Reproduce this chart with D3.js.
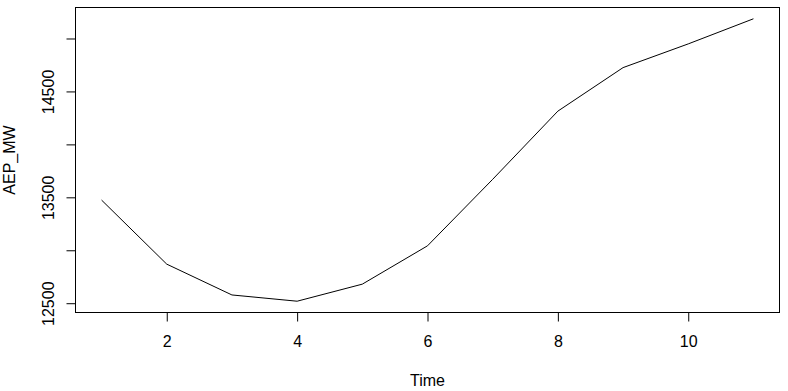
<!DOCTYPE html>
<html>
<head>
<meta charset="utf-8">
<script src="https://cdn.jsdelivr.net/npm/d3@7"></script>
<style>
  body { margin: 0; background: #fff; }
  svg { display: block; }
  text { font-family: Arial, "Liberation Sans", sans-serif; fill: #000; }
</style>
</head>
<body>
<svg id="chart"></svg>
<script>
// AEP_MW series, one value per time step
const timeSteps = [1, 2, 3, 4, 5, 6, 7, 8, 9, 10, 11];
const aepValues = [13474, 12869, 12578, 12519, 12680, 13042, 13670, 14314, 14725, 14949, 15186];

const xTicks = [2, 4, 6, 8, 10];
const yTicks = [12500, 13000, 13500, 14000, 14500, 15000];
const yLabelled = [12500, 13500, 14500]; // R drops the labels that would overlap

const width = 788, height = 391;
const margin = { top: 7.5, right: 8.5, bottom: 78.5, left: 75.5 };

const svg = d3.select('#chart')
    .attr('width', width)
    .attr('height', height);

// R pads the data range by 4% on each side
function pad(ext) {
    const d = (ext[1] - ext[0]) * 0.04;
    return [ext[0] - d, ext[1] + d];
}

const x = d3.scaleLinear()
    .domain(pad(d3.extent(timeSteps)))
    .range([margin.left, width - margin.right]);

const y = d3.scaleLinear()
    .domain(pad(d3.extent(aepValues)))
    .range([height - margin.bottom, margin.top]);

// x axis
const xAxis = svg.append('g')
    .attr('transform', `translate(0,${height - margin.bottom})`)
    .call(d3.axisBottom(x).tickValues(xTicks).tickSize(9).tickFormat(d3.format('d')));
xAxis.select('.domain').remove();
xAxis.selectAll('line').attr('stroke', '#000');
xAxis.selectAll('text')
    .attr('y', 34)
    .attr('dy', 0)
    .style('font-size', '16px')
    .style('font-family', 'Arial, "Liberation Sans", sans-serif');

// y axis, labels rotated like R's default las = 0
const yAxis = svg.append('g')
    .attr('transform', `translate(${margin.left},0)`)
    .call(d3.axisLeft(y).tickValues(yTicks).tickSize(9)
        .tickFormat(d => yLabelled.includes(d) ? d : ''));
yAxis.select('.domain').remove();
yAxis.selectAll('line').attr('stroke', '#000');
yAxis.selectAll('text')
    .attr('transform', 'rotate(-90)')
    .attr('x', 0)
    .attr('y', -22)
    .attr('dy', 0)
    .style('text-anchor', 'middle')
    .style('font-size', '16px')
    .style('font-family', 'Arial, "Liberation Sans", sans-serif');

// plot box
svg.append('rect')
    .attr('x', margin.left)
    .attr('y', margin.top)
    .attr('width', width - margin.left - margin.right)
    .attr('height', height - margin.top - margin.bottom)
    .attr('fill', 'none')
    .attr('stroke', '#000')
    .attr('stroke-width', 1);

// the series
const line = d3.line()
    .x((d, i) => x(timeSteps[i]))
    .y(d => y(d));

svg.append('path')
    .datum(aepValues)
    .attr('d', line)
    .attr('fill', 'none')
    .attr('stroke', '#000')
    .attr('stroke-width', 1);

// axis titles
svg.append('text')
    .attr('x', (margin.left + width - margin.right) / 2)
    .attr('y', 386)
    .attr('text-anchor', 'middle')
    .style('font-size', '16px')
    .text('Time');

svg.append('text')
    .attr('transform', `translate(15,${(margin.top + height - margin.bottom) / 2}) rotate(-90)`)
    .attr('text-anchor', 'middle')
    .style('font-size', '16px')
    .text('AEP_MW');
</script>
</body>
</html>
